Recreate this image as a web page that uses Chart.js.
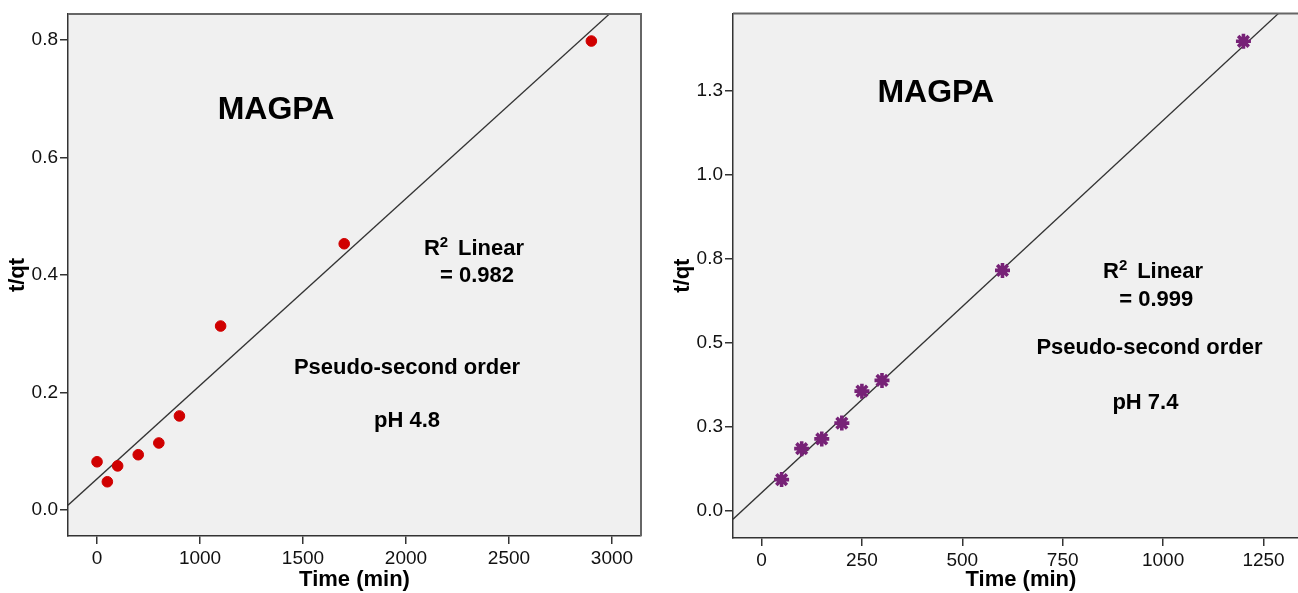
<!DOCTYPE html>
<html>
<head>
<meta charset="utf-8">
<script src="https://cdn.jsdelivr.net/npm/chart.js@4.4.0/dist/chart.umd.min.js"></script>
<style>
  html, body { margin: 0; padding: 0; background: #fff; overflow: hidden; }
  #wrap { position: relative; width: 1298px; height: 593px; overflow: hidden; }
  #left { position: absolute; left: 0; top: 0; }
  #right { position: absolute; left: 650px; top: 0; }
</style>
</head>
<body>
<div id="wrap">
  <canvas id="left" width="650" height="593"></canvas>
  <canvas id="right" width="670" height="593"></canvas>
</div>
<script>
// pH 4.8 panel
const timeA = [0, 50, 100, 200, 300, 400, 600, 1200, 2400];
const tqtA = [0.082, 0.048, 0.075, 0.094, 0.114, 0.160, 0.313, 0.453, 0.798];
const xTicksA = [0, 500, 1000, 1500, 2000, 2500];
const xLabelsA = ['0', '1000', '1500', '2000', '2500', '3000'];
const yTicksA = [0, 0.2, 0.4, 0.6, 0.8];
const yLabelsA = ['0.0', '0.2', '0.4', '0.6', '0.8'];
const fitA = [0.053, 0.000318]; // intercept, slope of the drawn fit line

// pH 7.4 panel
const timeB = [50, 100, 150, 200, 250, 300, 600, 1200];
const tqtB = [0.094, 0.186, 0.215, 0.262, 0.357, 0.389, 0.716, 1.397];
const xTicksB = [0, 250, 500, 750, 1000, 1250];
const xLabelsB = ['0', '250', '500', '750', '1000', '1250'];
const yTicksB = [0, 0.25, 0.5, 0.75, 1.0, 1.25];
const yLabelsB = ['0.0', '0.3', '0.5', '0.8', '1.0', '1.3'];
const fitB = [0.055, 0.001107];

const TICK_FONT = '"Liberation Sans Narrow", "Liberation Sans", Arial, sans-serif';
const BOLD_FONT = '"Liberation Sans", Arial, sans-serif';

// background, frame and the text notes inside the plot
const panelPlugin = {
  id: 'panel',
  beforeDraw(chart) {
    const a = chart.chartArea, ctx = chart.ctx;
    ctx.save();
    ctx.fillStyle = '#f0f0f0';
    ctx.fillRect(a.left, a.top, a.right - a.left, a.bottom - a.top);
    ctx.restore();
  },
  afterDraw(chart, args, opts) {
    const a = chart.chartArea, ctx = chart.ctx;
    ctx.save();
    ctx.strokeStyle = '#666';
    ctx.lineWidth = 2;
    ctx.beginPath();
    ctx.moveTo(a.left, a.top);
    ctx.lineTo(a.right, a.top);
    ctx.lineTo(a.right, a.bottom);
    ctx.stroke();

    const sx = chart.scales.x, sy = chart.scales.y;
    ctx.fillStyle = '#000';
    ctx.textBaseline = 'alphabetic';
    opts.notes.forEach(n => {
      const px = sx.getPixelForValue(n.x);
      const py = sy.getPixelForValue(n.y) + n.size * 0.358;
      if (n.sup) {
        // "R² Linear"
        const supSize = Math.round(n.size * 0.7);
        ctx.font = 'bold ' + n.size + 'px ' + BOLD_FONT;
        const wR = ctx.measureText('R').width;
        const wL = ctx.measureText('Linear').width;
        ctx.font = 'bold ' + supSize + 'px ' + BOLD_FONT;
        const w2 = ctx.measureText('2').width;
        const gap = n.size * 0.45;
        const total = wR + w2 + gap + wL;
        let x0 = px - total / 2;
        ctx.textAlign = 'left';
        ctx.font = 'bold ' + n.size + 'px ' + BOLD_FONT;
        ctx.fillText('R', x0, py);
        ctx.font = 'bold ' + supSize + 'px ' + BOLD_FONT;
        ctx.fillText('2', x0 + wR, py - n.size * 0.36);
        ctx.font = 'bold ' + n.size + 'px ' + BOLD_FONT;
        ctx.fillText('Linear', x0 + wR + w2 + gap, py);
      } else {
        ctx.textAlign = 'center';
        ctx.font = 'bold ' + n.size + 'px ' + BOLD_FONT;
        ctx.fillText(n.text, px, py);
      }
    });
    ctx.restore();
  }
};

function makePanel(id, o) {
  const fitLine = [
    { x: o.xMin, y: o.fit[0] + o.fit[1] * o.xMin },
    { x: o.xMax, y: o.fit[0] + o.fit[1] * o.xMax }
  ];
  const axisCommon = {
    type: 'linear',
    grid: { drawOnChartArea: false, drawTicks: true, tickLength: 8, color: '#333', lineWidth: 1.5 },
    border: { display: true, color: '#333', width: 1.5 }
  };
  return new Chart(document.getElementById(id), {
    type: 'scatter',
    data: {
      datasets: [
        {
          data: o.time.map((t, i) => ({ x: t, y: o.tqt[i] })),
          pointStyle: o.marker,
          pointRadius: o.marker === 'star' ? 7.5 : 5.3,
          pointBackgroundColor: o.color,
          pointBorderColor: o.color,
          pointBorderWidth: o.marker === 'star' ? 3.6 : 1,
          order: 1
        },
        {
          type: 'line',
          data: fitLine,
          borderColor: '#333',
          borderWidth: 1.3,
          pointRadius: 0,
          fill: false,
          order: 2
        }
      ]
    },
    options: {
      responsive: false,
      animation: false,
      events: [],
      layout: { padding: o.padding },
      plugins: {
        legend: { display: false },
        tooltip: { enabled: false },
        panel: { notes: o.notes }
      },
      scales: {
        x: Object.assign({}, axisCommon, {
          min: o.xMin, max: o.xMax,
          afterBuildTicks: s => { s.ticks = o.xTicks.map(v => ({ value: v })); },
          afterFit: s => { s.height = o.xAxisH; },
          ticks: {
            callback: v => o.xLabels[o.xTicks.indexOf(v)],
            font: { family: TICK_FONT, size: 19 },
            color: '#111', padding: 3, maxRotation: 0, autoSkip: false
          },
          title: {
            display: true, text: 'Time (min)', color: '#000',
            font: { family: BOLD_FONT, weight: 'bold', size: 22 },
            padding: { top: 0, bottom: 0 }
          }
        }),
        y: Object.assign({}, axisCommon, {
          min: o.yMin, max: o.yMax,
          afterBuildTicks: s => { s.ticks = o.yTicks.map(v => ({ value: v })); },
          afterFit: s => { s.width = o.yAxisW; },
          ticks: {
            callback: v => o.yLabels[o.yTicks.indexOf(v)],
            font: { family: TICK_FONT, size: 19 },
            color: '#111', padding: 2, autoSkip: false
          },
          title: {
            display: true, text: 't/qt', color: '#000',
            font: { family: BOLD_FONT, weight: 'bold', size: 22 },
            padding: { top: 5, bottom: 0 }
          }
        })
      }
    },
    plugins: [panelPlugin]
  });
}

makePanel('left', {
  time: timeA, tqt: tqtA, fit: fitA,
  xTicks: xTicksA, xLabels: xLabelsA, yTicks: yTicksA, yLabels: yLabelsA,
  xMin: -141, xMax: 2641, yMin: -0.0443, yMax: 0.844,
  marker: 'circle', color: '#d00000',
  padding: { left: 0, top: 14, right: 9, bottom: 0 },
  yAxisW: 68, xAxisH: 57,
  notes: [
    { text: 'MAGPA', x: 869, y: 0.684, size: 32 },
    { text: 'R2 Linear', sup: true, x: 1830, y: 0.448, size: 22 },
    { text: '= 0.982', x: 1845, y: 0.401, size: 22 },
    { text: 'Pseudo-second order', x: 1505, y: 0.245, size: 22 },
    { text: 'pH 4.8', x: 1505, y: 0.154, size: 22 }
  ]
});

makePanel('right', {
  time: timeB, tqt: tqtB, fit: fitB,
  xTicks: xTicksB, xLabels: xLabelsB, yTicks: yTicksB, yLabels: yLabelsB,
  xMin: -71, xMax: 1363, yMin: -0.0796, yMax: 1.48,
  marker: 'star', color: '#772277',
  padding: { left: 15, top: 9, right: 2, bottom: 0 },
  yAxisW: 68, xAxisH: 55,
  notes: [
    { text: 'MAGPA', x: 434, y: 1.2515, size: 32 },
    { text: 'R2 Linear', sup: true, x: 975, y: 0.718, size: 22 },
    { text: '= 0.999', x: 983, y: 0.634, size: 22 },
    { text: 'Pseudo-second order', x: 966, y: 0.491, size: 22 },
    { text: 'pH 7.4', x: 956, y: 0.326, size: 22 }
  ]
});
</script>
</body>
</html>
